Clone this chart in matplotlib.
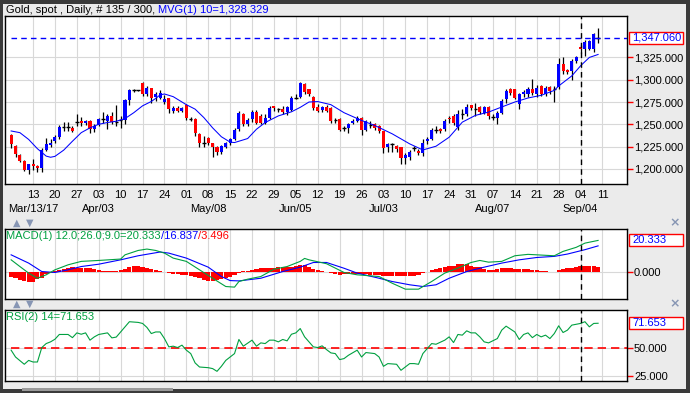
import matplotlib

matplotlib.use("Agg")
import matplotlib.pyplot as plt
import numpy as np
import pandas as pd
from matplotlib.patches import Rectangle
from matplotlib.ticker import FuncFormatter

plt.rcParams["font.family"] = ["Liberation Sans", "DejaVu Sans"]

# ---- data (gold spot, daily, 06 Mar 2017 - 08 Sep 2017) ----
opens = [
    1237.6, 1226.0, 1216.0, 1208.6, 1199.2, 1206.0, 1203.0, 1200.4, 1221.0, 1226.3,
    1231.2, 1236.0, 1246.6, 1246.6, 1245.5, 1253.0, 1253.7, 1251.0, 1253.7, 1244.4,
    1249.0, 1257.5, 1254.0, 1259.4, 1253.0, 1254.5, 1254.5, 1277.4, 1288.3, 1288.3,
    1296.2, 1283.8, 1290.6, 1281.0, 1280.0, 1275.2, 1279.0, 1265.0, 1268.0, 1265.0,
    1271.8, 1257.0, 1256.4, 1238.7, 1229.3, 1235.0, 1228.6, 1224.8, 1218.8, 1224.8,
    1229.3, 1233.1, 1244.4, 1261.3, 1250.0, 1256.4, 1263.9, 1259.4, 1252.0, 1257.5,
    1270.0, 1266.9, 1267.5, 1264.0, 1266.2, 1280.0, 1281.0, 1295.0, 1289.5, 1281.0,
    1269.0, 1266.0, 1269.0, 1268.0, 1254.5, 1256.0, 1246.0, 1246.0, 1252.0, 1254.0,
    1257.5, 1244.0, 1249.0, 1250.0, 1248.0, 1242.0, 1224.0, 1227.4, 1226.0, 1224.0,
    1212.0, 1213.5, 1223.7, 1220.0, 1218.0, 1231.0, 1233.0, 1243.6, 1244.4, 1244.4,
    1257.5, 1259.0, 1247.0, 1261.0, 1261.0, 1271.2, 1267.5, 1269.7, 1263.0, 1269.7,
    1258.5, 1257.3, 1263.0, 1278.0, 1289.3, 1289.3, 1272.4, 1283.6, 1283.6, 1290.0,
    1283.6, 1293.0, 1283.6, 1292.0, 1290.0, 1291.6, 1317.7, 1310.5, 1310.0, 1321.4,
    1337.0, 1334.2, 1334.0, 1334.4, 1348.0,
]
highs = [
    1238.7, 1227.0, 1217.0, 1210.0, 1206.0, 1211.6, 1204.0, 1223.7, 1234.4, 1233.7,
    1238.0, 1249.0, 1253.0, 1253.0, 1248.0, 1261.3, 1258.6, 1255.0, 1255.0, 1250.0,
    1257.5, 1263.9, 1261.3, 1263.9, 1271.8, 1259.0, 1278.0, 1289.5, 1290.0, 1289.0,
    1297.0, 1293.0, 1291.0, 1286.0, 1288.0, 1283.0, 1280.0, 1270.0, 1270.0, 1269.0,
    1272.5, 1258.0, 1257.0, 1240.0, 1236.9, 1235.5, 1229.0, 1226.0, 1226.5, 1230.0,
    1235.0, 1246.0, 1265.0, 1262.5, 1257.5, 1266.0, 1266.0, 1262.0, 1261.0, 1270.0,
    1271.0, 1268.0, 1270.0, 1270.5, 1282.0, 1283.8, 1297.5, 1296.0, 1290.0, 1282.0,
    1272.5, 1270.0, 1271.8, 1269.0, 1257.5, 1257.0, 1248.5, 1251.0, 1256.0, 1259.4,
    1258.5, 1255.0, 1254.0, 1252.0, 1249.0, 1243.0, 1229.0, 1229.3, 1227.0, 1225.0,
    1218.0, 1221.0, 1226.0, 1222.0, 1233.0, 1236.0, 1246.0, 1248.0, 1246.0, 1256.0,
    1259.0, 1261.0, 1266.0, 1266.7, 1272.4, 1272.0, 1274.0, 1271.0, 1271.0, 1271.0,
    1262.0, 1265.0, 1278.0, 1289.3, 1291.0, 1290.0, 1285.0, 1288.0, 1292.0, 1301.0,
    1294.0, 1294.0, 1293.0, 1293.0, 1293.0, 1324.0, 1325.0, 1312.0, 1323.0, 1327.0,
    1339.0, 1345.0, 1345.0, 1352.0, 1358.0,
]
lows = [
    1223.7, 1213.5, 1207.5, 1197.4, 1194.4, 1199.0, 1197.0, 1196.0, 1220.0, 1224.0,
    1229.0, 1233.0, 1242.5, 1242.5, 1241.0, 1248.0, 1248.0, 1249.5, 1240.6, 1241.4,
    1248.0, 1252.0, 1244.4, 1250.7, 1248.0, 1246.0, 1250.0, 1271.8, 1285.7, 1287.0,
    1281.2, 1282.0, 1274.4, 1276.0, 1278.0, 1273.0, 1263.0, 1263.0, 1264.0, 1264.0,
    1254.6, 1253.5, 1236.9, 1224.8, 1224.8, 1227.0, 1213.5, 1216.0, 1217.0, 1223.0,
    1227.0, 1232.0, 1243.0, 1248.0, 1248.5, 1253.0, 1250.0, 1250.5, 1250.0, 1256.0,
    1265.0, 1264.0, 1261.0, 1260.0, 1265.0, 1278.0, 1279.5, 1284.0, 1282.0, 1266.0,
    1264.0, 1264.0, 1264.0, 1252.0, 1251.0, 1242.5, 1242.0, 1240.6, 1250.0, 1253.0,
    1237.5, 1242.0, 1245.5, 1244.0, 1240.0, 1218.0, 1219.0, 1219.0, 1219.0, 1205.7,
    1204.9, 1210.0, 1220.0, 1215.0, 1214.6, 1228.0, 1232.0, 1240.0, 1240.0, 1243.0,
    1252.0, 1249.0, 1244.0, 1255.5, 1259.0, 1266.0, 1259.0, 1261.0, 1261.0, 1255.5,
    1255.0, 1250.0, 1261.0, 1274.0, 1283.0, 1278.0, 1267.5, 1281.0, 1281.0, 1283.0,
    1281.0, 1282.0, 1282.0, 1284.0, 1275.0, 1290.0, 1306.0, 1306.0, 1300.0, 1319.0,
    1330.0, 1327.0, 1333.0, 1331.0, 1341.0,
]
closes = [
    1227.4, 1216.5, 1208.6, 1199.2, 1204.9, 1203.0, 1200.4, 1221.0, 1227.4, 1229.3,
    1236.1, 1247.4, 1246.6, 1246.6, 1242.5, 1253.0, 1251.9, 1253.7, 1244.4, 1248.1,
    1255.6, 1256.4, 1259.4, 1252.6, 1253.0, 1254.5, 1277.4, 1288.3, 1288.3, 1288.3,
    1283.8, 1290.6, 1280.0, 1284.0, 1285.0, 1278.2, 1266.9, 1268.0, 1265.0, 1268.0,
    1257.5, 1256.0, 1239.8, 1229.3, 1229.3, 1228.6, 1224.8, 1218.8, 1225.6, 1229.3,
    1233.1, 1243.6, 1263.2, 1250.0, 1255.0, 1263.9, 1251.9, 1251.9, 1257.5, 1268.0,
    1268.0, 1266.9, 1263.9, 1269.0, 1279.7, 1280.0, 1296.2, 1286.0, 1284.0, 1268.0,
    1265.0, 1269.0, 1265.0, 1254.0, 1254.5, 1243.6, 1246.0, 1250.0, 1254.0, 1257.5,
    1243.6, 1254.0, 1249.0, 1246.0, 1242.5, 1223.7, 1227.4, 1227.4, 1222.0, 1212.0,
    1216.0, 1219.0, 1223.7, 1218.0, 1228.6, 1234.0, 1243.6, 1243.6, 1242.5, 1253.8,
    1255.6, 1252.0, 1262.0, 1261.0, 1269.7, 1268.6, 1267.5, 1263.7, 1269.7, 1259.2,
    1258.5, 1263.0, 1276.0, 1287.4, 1284.8, 1280.0, 1283.6, 1286.0, 1290.0, 1285.0,
    1291.2, 1283.6, 1291.2, 1287.5, 1290.0, 1317.7, 1310.2, 1309.0, 1321.4, 1325.2,
    1334.2, 1342.7, 1343.0, 1351.0, 1347.06,
]

# 10-day moving average line (sampled at trading-day index)
ma_idx = [0, 2, 4, 6, 8, 9, 10, 12, 14, 16, 18, 20, 22, 24, 26, 28, 30, 32, 33, 34,
          35, 37, 40, 42, 44, 46, 48, 50, 51, 54, 56, 58, 61, 64, 66, 68, 70, 73, 76, 80,
          83, 87, 91, 94, 97, 100, 103, 106, 109, 112, 115, 118, 121, 124, 125, 128, 130, 132, 134]
ma_val = [1242.5, 1240.6, 1233.0, 1222.6, 1214.3, 1213.0, 1214.0, 1221.0, 1231.0, 1240.6,
          1246.0, 1250.0, 1252.0, 1253.4, 1256.4, 1263.0, 1270.7, 1275.6, 1279.0, 1283.0,
          1284.0, 1281.0, 1272.0, 1267.0, 1257.5, 1246.0, 1236.0, 1230.0, 1229.5, 1234.0,
          1244.4, 1252.0, 1259.4, 1264.0, 1269.0, 1275.0, 1275.5, 1272.0, 1263.0, 1254.3,
          1248.7, 1239.3, 1228.0, 1221.2, 1225.4, 1235.5, 1252.4, 1260.0, 1263.7, 1269.4,
          1275.0, 1279.5, 1282.5, 1288.0, 1293.0, 1304.3, 1315.6, 1325.0, 1328.329]

# MACD (12, 26, 9)
macd_idx = [0, 2, 4, 6, 8, 10, 13, 16, 20, 25, 26, 29, 31, 33, 35, 37, 40, 43, 46, 49,
            51, 52, 54, 57, 60, 63, 66, 67, 68, 72, 76, 79, 84, 87, 90, 93, 96, 99, 102, 105,
            107, 109, 112, 115, 118, 124, 126, 129, 131, 134]
macd_val = [7.9, 3.6, -0.6, -3.9, -1.7, 1.5, 4.7, 6.9, 7.5, 8.4, 11.1, 13.9, 14.8, 13.9, 12.2,
            9.0, 6.9, 1.5, -3.9, -9.2, -9.6, -6.0, -4.5, -2.8, 1.9, 3.6, 6.9, 8.8, 7.9, 5.4,
            -0.2, -1.7, -2.8, -7.1, -10.9, -10.9, -6.0, -0.6, 2.6, 6.2, 7.5, 6.4, 6.9, 10.5,
            11.4, 10.5, 13.3, 15.9, 18.6, 20.333]
signal_idx = [0, 4, 7, 10, 13, 16, 20, 25, 29, 34, 36, 40, 45, 48, 50, 52, 57, 62, 66, 69,
              72, 76, 79, 84, 87, 91, 94, 97, 100, 104, 108, 112, 116, 120, 124, 127, 131, 134]
signal_val = [11.1, 5.8, 0.4, -0.2, 1.5, 3.6, 5.1, 7.9, 10.5, 12.9, 12.2, 9.0, 3.2, -2.8, -5.4,
              -5.6, -3.9, 0.4, 3.2, 6.2, 6.2, 2.5, -0.6, -3.9, -6.0, -8.1, -9.2, -8.1, -3.9, 0.4,
              3.2, 5.8, 7.9, 9.4, 10.1, 11.6, 14.4, 16.837]
macd_hist = [
    -2.8, -3.5, -5.0, -5.4, -6.0, -6.0, -4.5, -3.5, -1.5, -0.8,
    0.5, 1.2, 2.2, 2.8, 3.0, 2.8, 2.6, 2.6, 2.4, 2.0,
    1.4, 1.0, 1.0, 0.8, 1.0, 1.6, 2.2, 3.2, 4.0, 4.0,
    3.2, 2.6, 2.0, 1.4, 0.8, 0.2, -0.6, -1.0, -1.4, -1.7,
    -1.8, -2.2, -3.0, -4.0, -5.0, -5.5, -5.6, -5.0, -4.4, -3.9,
    -3.0, -1.8, -0.5, 0.5, 1.0, 1.5, 2.0, 2.6, 2.6, 2.6,
    2.8, 3.0, 3.2, 3.2, 3.6, 4.0, 4.7, 4.5, 3.0, 2.0,
    1.5, 0.8, 0.0, -0.8, -1.4, -1.7, -1.5, -1.4, -1.2, -1.2,
    -1.5, -1.5, -1.7, -1.7, -2.0, -2.2, -2.4, -2.4, -2.4, -2.4,
    -2.4, -2.4, -2.2, -1.8, -0.6, 0.4, 1.5, 2.2, 2.6, 3.4,
    3.8, 4.2, 5.0, 5.1, 5.0, 4.0, 3.4, 3.2, 2.2, 1.6,
    1.5, 2.0, 2.6, 2.8, 2.4, 2.2, 2.0, 2.0, 1.8, 1.5,
    1.2, 1.0, 0.6, 0.3, 0.4, 1.5, 2.0, 2.4, 2.8, 3.4,
    3.8, 4.0, 4.0, 3.8, 3.496,
]

# RSI(14)
rsi_idx = [0, 1, 3, 4, 5, 6, 7, 8, 9, 10, 11, 13, 14, 15, 16, 17, 18, 19, 20, 22,
           23, 24, 26, 27, 29, 30, 31, 32, 33, 34, 35, 36, 37, 38, 39, 40, 41, 42, 43, 45,
           46, 47, 48, 49, 51, 52, 53, 55, 56, 57, 58, 59, 60, 61, 62, 63, 64, 65, 66, 67,
           69, 70, 71, 72, 73, 74, 75, 76, 77, 79, 80, 81, 83, 84, 85, 86, 88, 89, 91, 92,
           93, 94, 96, 97, 99, 100, 101, 102, 103, 104, 105, 106, 107, 108, 109, 111, 112, 113, 115, 116,
           117, 118, 119, 120, 121, 122, 123, 124, 125, 126, 127, 128, 130, 131, 132, 133, 134]
rsi_val = [48.0, 42.0, 35.6, 39.0, 37.6, 37.6, 50.3, 53.8, 55.3, 57.6, 61.8, 61.8, 59.0, 63.2, 62.0, 63.2, 56.8, 59.7, 61.8, 63.2,
           58.8, 59.5, 68.5, 73.0, 72.4, 71.5, 68.0, 62.6, 64.0, 64.0, 58.2, 50.9, 51.5, 50.3, 52.4, 48.0, 45.0, 36.8, 33.2, 32.6,
           31.8, 29.4, 33.8, 39.0, 45.0, 57.4, 51.5, 56.8, 51.5, 54.4, 53.8, 56.8, 56.8, 55.3, 57.4, 56.2, 62.0, 63.2, 67.0, 59.7,
           50.9, 50.3, 51.8, 48.5, 45.6, 45.0, 39.7, 40.6, 43.5, 48.0, 42.0, 45.9, 45.0, 42.0, 33.8, 36.2, 35.6, 30.3, 36.2, 36.2,
           35.6, 45.0, 53.8, 53.2, 56.8, 59.7, 54.7, 61.8, 61.2, 65.0, 63.2, 63.2, 59.7, 55.3, 54.4, 58.2, 65.6, 69.1, 64.0, 57.4,
           61.8, 63.2, 59.0, 61.8, 59.7, 61.2, 58.2, 62.6, 69.4, 63.5, 65.6, 70.0, 71.5, 73.0, 68.5, 71.5, 71.653]

day_labels_start = "2017-03-06"
month_labels = ["Mar/13/17", "Apr/03", "May/08", "Jun/05", "Jul/03", "Aug/07", "Sep/04"]
month_dates = ["2017-03-13", "2017-04-03", "2017-05-08", "2017-06-05", "2017-07-03", "2017-08-07", "2017-09-04"]
marker_date = "2017-09-04"

# ---- layout (pixels) ----
W, H = 690, 393
BG = "#ebebeb"
GRID = "#d8d8d8"
GREEN = "#00a040"
BLUE = "#0000ff"
RED = "#ff0000"
XMIN, XMAX = -1.4, 140.6

fig = plt.figure(figsize=(W / 100, H / 100), dpi=100, facecolor="#3a3a3a")
fig.add_artist(Rectangle((3 / W, 1 - 389 / H), 683 / W, 385 / H, transform=fig.transFigure,
                         facecolor=BG, edgecolor="none", zorder=-5))
fig.add_artist(Rectangle((22 / W, 1 - 391 / H), 151 / W, 3 / H, transform=fig.transFigure,
                         facecolor="#9a9a9a", edgecolor="none"))


def add_panel(top, bottom):
    ax = fig.add_axes([5 / W, 1 - bottom / H, 622 / W, (bottom - top) / H])
    ax.set_facecolor("white")
    for s in ax.spines.values():
        s.set_color("black")
        s.set_linewidth(1.0)
    ax.set_xlim(XMIN, XMAX)
    ax.yaxis.tick_right()
    ax.tick_params(axis="y", colors=RED, labelcolor="black", length=4, width=1, pad=1, labelsize=8)
    ax.tick_params(axis="x", length=0)
    ax.grid(True, color=GRID, linewidth=0.8)
    ax.set_axisbelow(True)
    ax.yaxis.set_major_formatter(FuncFormatter(lambda v, p: f"{v:,.3f}"))
    return ax


dates = pd.bdate_range(day_labels_start, periods=len(closes) + 1)
pos = {d.strftime("%Y-%m-%d"): i for i, d in enumerate(dates)}
tick_pos = [i for i, d in enumerate(dates) if d.weekday() == 0 and i > 0]
tick_lab = [dates[i].strftime("%d") for i in tick_pos]
marker_x = pos[marker_date]

ax_p = add_panel(16, 184)
ax_m = add_panel(229, 299)
ax_r = add_panel(310, 381)

# ---- price panel ----
o = np.array(opens)
h = np.array(highs)
lo = np.array(lows)
c = np.array(closes)
x = np.arange(len(c))
doji = np.abs(c - o) <= 1.2
ax_p.vlines(x, lo, h, color="black", linewidth=0.9, zorder=2)
body_col = np.where(c >= o, BLUE, RED)
ax_p.bar(x[~doji], np.abs(c - o)[~doji], bottom=np.minimum(o, c)[~doji], width=0.7,
         color=body_col[~doji], linewidth=0, zorder=3)
ax_p.hlines(c[doji], x[doji] - 0.4, x[doji] + 0.4, color="black", linewidth=1.0, zorder=3)
ax_p.plot(ma_idx, ma_val, color=BLUE, linewidth=0.75, zorder=4)
ax_p.hlines(c[-1], 0, XMAX, colors=BLUE, linestyles=(0, (4, 3)), linewidth=1.0, zorder=4)
ax_p.set_ylim(1183, 1371.5)
ax_p.set_yticks([1200, 1225, 1250, 1275, 1300, 1325])
ax_p.set_xticks(tick_pos)
ax_p.set_xticklabels(tick_lab, fontsize=8)
ax_p.tick_params(axis="x", pad=4)
for lab, d in zip(month_labels, month_dates):
    if lab == month_labels[0]:
        ax_p.text(0.005, -0.15, lab, transform=ax_p.transAxes, ha="left", va="center", fontsize=8)
    else:
        ax_p.text(pos[d], -0.15, lab, transform=ax_p.get_xaxis_transform(), ha="center",
                  va="center", fontsize=8)

# ---- MACD panel ----
ax_m.bar(x, macd_hist, width=0.95, color=RED, linewidth=0, zorder=2)
ax_m.plot(signal_idx, signal_val, color=BLUE, linewidth=0.8, zorder=3)
ax_m.plot(macd_idx, macd_val, color=GREEN, linewidth=0.8, zorder=3)
ax_m.set_ylim(-17.2, 27.65)
ax_m.set_yticks([0])
ax_m.set_xticks(tick_pos)
ax_m.tick_params(axis="x", labelbottom=False)

# ---- RSI panel ----
ax_r.plot(rsi_idx, rsi_val, color=GREEN, linewidth=0.8, zorder=3)
ax_r.hlines(50, 0, XMAX, colors=RED, linestyles=(0, (5, 3)), linewidth=1.2, zorder=2)
ax_r.set_ylim(20.9, 83.3)
ax_r.set_yticks([25, 50])
ax_r.set_xticks(tick_pos)
ax_r.tick_params(axis="x", labelbottom=False)

for ax in (ax_p, ax_m, ax_r):
    ax.axvline(marker_x, color="black", linestyle=(0, (4, 3)), linewidth=1.0, zorder=5)

renderer = fig.canvas.get_renderer()


def rich_text(x_px, y_px, parts, size=8):
    for s, col in parts:
        t = fig.text(x_px / W, 1 - y_px / H, s, color=col, fontsize=size, ha="left", va="center")
        x_px += t.get_window_extent(renderer=renderer).width


def value_box(ax, value, text):
    y_px = H - ax.transData.transform((0, value))[1]
    fig.add_artist(Rectangle((629 / W, 1 - (y_px + 6) / H), 54 / W, 12 / H, transform=fig.transFigure,
                             facecolor="white", edgecolor=RED, linewidth=1.0, zorder=10))
    fig.text(632 / W, 1 - y_px / H, text, color=BLUE, fontsize=8, ha="left", va="center", zorder=11)


rich_text(6, 10, [("Gold, spot , Daily, # 135 / 300, ", "black"), ("MVG(1) 10=1,328.329", BLUE)])
rich_text(6, 235.5, [("MACD(1) 12.0;26.0;9.0=20.333", GREEN), ("/16.837", BLUE), ("/3.496", RED)])
rich_text(6, 316.5, [("RSI(2) 14=71.653", GREEN)])

value_box(ax_p, closes[-1], f"{closes[-1]:,.3f}")
value_box(ax_m, macd_val[-1], f"{macd_val[-1]:.3f}")
value_box(ax_r, rsi_val[-1], f"{rsi_val[-1]:.3f}")

# panel separators: resize arrows and close buttons
for y in (223, 304):
    fig.text(13 / W, 1 - y / H, "\u25b2", color="#8796b4", fontsize=7, ha="left", va="center",
             family=["DejaVu Sans"])
    fig.text(26 / W, 1 - y / H, "\u25bc", color="#8796b4", fontsize=7, ha="left", va="center",
             family=["DejaVu Sans"])
    fig.text(675 / W, 1 - y / H, "\u00d7", color="#8796b4", fontsize=9, ha="center", va="center",
             fontweight="bold", family=["DejaVu Sans"])

fig.savefig("out.png", dpi=100, facecolor=fig.get_facecolor())
